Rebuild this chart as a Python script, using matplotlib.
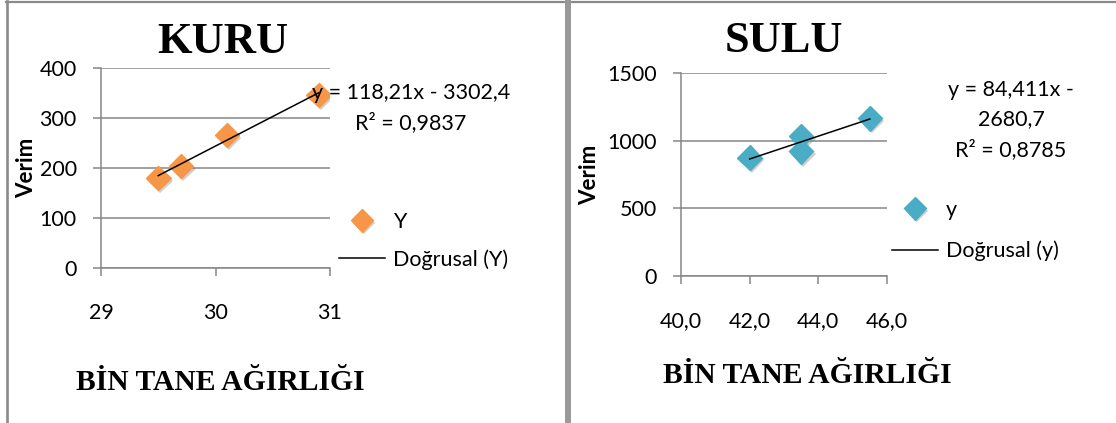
import numpy as np
import matplotlib
matplotlib.use('Agg')
import matplotlib.pyplot as plt
import matplotlib.patheffects as pe
from matplotlib.lines import Line2D
from matplotlib.ticker import FuncFormatter, MultipleLocator

plt.rcParams['font.family'] = ['Lato', 'DejaVu Sans']

# KURU (kuru koşul) verileri
kuru_x = [29.5, 29.7, 30.1, 30.9]
kuru_y = [180, 204, 266, 346]
kuru_slope, kuru_intercept, kuru_r2 = 118.21, -3302.4, 0.9837

# SULU (sulu koşul) verileri
sulu_x = [42.0, 43.5, 43.5, 45.5]
sulu_y = [875, 1035, 920, 1165]
sulu_slope, sulu_intercept, sulu_r2 = 84.411, -2680.7, 0.8785

W, H = 1116, 423
fig = plt.figure(figsize=(W / 100, H / 100), dpi=100)
fig.patch.set_facecolor('white')

GRID = '#868686'
FS = 15.5
shadow = [pe.SimplePatchShadow(offset=(1.5, -2), shadow_rgbFace='#777777', alpha=0.35), pe.Normal()]


def tr(v):
    return str(v).replace('.', ',')


def panel(rect, x, y, slope, intercept, color, xlim, ylim, ystep, xfmt, series):
    ax = fig.add_axes(rect)
    ax.plot(x, y, linestyle='none', marker='D', markersize=12.5, color=color,
            markeredgecolor=color, path_effects=shadow, label=series, zorder=3)
    xs = np.array([min(x), max(x)])
    ax.plot(xs, slope * xs + intercept, color='black', lw=1.1,
            label='Doğrusal (%s)' % series, zorder=4)
    ax.set_xlim(*xlim)
    ax.set_ylim(*ylim)
    ax.yaxis.set_major_locator(MultipleLocator(ystep))
    ax.xaxis.set_major_formatter(FuncFormatter(xfmt))
    ax.grid(axis='y', color=GRID, lw=1.1)
    ax.set_axisbelow(True)
    for s in ['top', 'right']:
        ax.spines[s].set_visible(False)
    for s in ['left', 'bottom']:
        ax.spines[s].set_color(GRID)
        ax.spines[s].set_linewidth(1.1)
    ax.tick_params(axis='y', length=6, width=1.1, color=GRID, pad=11.5, labelsize=FS)
    ax.tick_params(axis='x', length=6, width=1.1, color=GRID, pad=19, labelsize=FS)
    return ax


ax1 = panel([101 / W, (H - 268) / H, 229 / W, 200 / H], kuru_x, kuru_y,
            kuru_slope, kuru_intercept, '#F79646', (29, 31), (0, 400), 100,
            lambda v, _: '%d' % v, 'Y')
ax1.set_xticks([29, 30, 31])

ax2 = panel([681 / W, (H - 276) / H, 206 / W, 203 / H], sulu_x, sulu_y,
            sulu_slope, sulu_intercept, '#4BACC6', (40, 46), (0, 1500), 500,
            lambda v, _: ('%.1f' % v).replace('.', ','), 'y')
ax2.set_xticks([40, 42, 44, 46])

# başlıklar ve eksen adları
serif = dict(family='Liberation Serif', weight='bold')
fig.text(223 / W, 1 - 53 / H, 'KURU', ha='center', va='baseline', fontsize=32, **serif)
fig.text(784 / W, 1 - 52 / H, 'SULU', ha='center', va='baseline', fontsize=32, **serif)
fig.text(220 / W, 1 - 390 / H, 'BİN TANE AĞIRLIĞI', ha='center', va='baseline', fontsize=21.3, **serif)
fig.text(807 / W, 1 - 383 / H, 'BİN TANE AĞIRLIĞI', ha='center', va='baseline', fontsize=21.3, **serif)
fig.text(27 / W, 1 - 168 / H, 'Verim', rotation=90, ha='center', va='center', fontsize=16, weight='bold')
fig.text(590 / W, 1 - 175 / H, 'Verim', rotation=90, ha='center', va='center', fontsize=16, weight='bold')

# regresyon denklemleri
eq1 = 'y = %sx - %s\nR² = %s' % (tr(kuru_slope), tr(abs(kuru_intercept)), tr(kuru_r2))
fig.text(411 / W, 1 - 108 / H, eq1, ha='center', va='center', multialignment='center',
         fontsize=FS, linespacing=1.5)
eq2 = 'y = %sx -\n%s\nR² = %s' % (tr(sulu_slope), tr(abs(sulu_intercept)), tr(sulu_r2))
fig.text(1011 / W, 1 - 120 / H, eq2, ha='center', va='center', multialignment='center',
         fontsize=FS, linespacing=1.6)

# lejantlar
for ax, x0, y0, sp in [(ax1, 339, 212, 0.8), (ax2, 892, 200, 0.95)]:
    h, l = ax.get_legend_handles_labels()
    leg = ax.legend(h, l, loc='upper left', bbox_to_anchor=(x0 / W, 1 - y0 / H),
                    bbox_transform=fig.transFigure, frameon=False, fontsize=FS,
                    borderaxespad=0, borderpad=0, handlelength=2.15, handletextpad=0.35,
                    labelspacing=sp, markerscale=0.9)

# çerçeve çizgileri
fig.add_artist(Line2D([6 / W, 1], [1 - 2 / H, 1 - 2 / H], transform=fig.transFigure,
                      color='#8a8a8a', lw=1.6))
fig.add_artist(Line2D([7 / W, 7 / W], [0, 1 - 1 / H], transform=fig.transFigure,
                      color='#8a8a8a', lw=1.9))
fig.add_artist(Line2D([568 / W, 568 / W], [0, 1 - 1 / H], transform=fig.transFigure,
                      color='#999999', lw=4.3))

fig.savefig('out.png', dpi=100)
